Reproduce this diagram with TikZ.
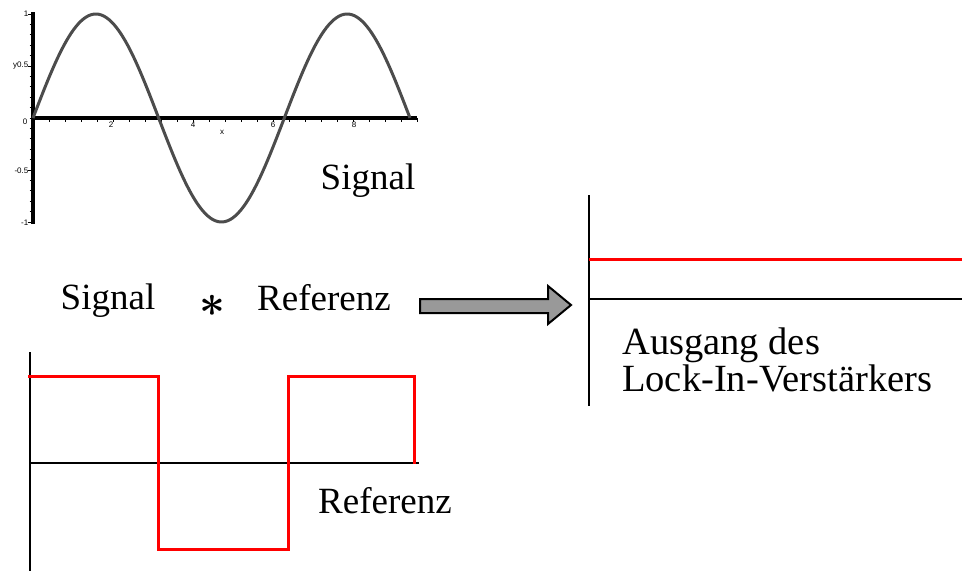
\documentclass[tikz,border=0pt]{standalone}
\usepackage{fontspec}
\usepackage{graphicx}
\setmainfont{Liberation Serif}
\newfontfamily\ticksfont{Liberation Sans}
\begin{document}
\begin{tikzpicture}[x=1pt,y=-1pt,
  axis/.style={line width=3.6pt,black},
  thinaxis/.style={line width=2.6pt,black},
  sigcurve/.style={line width=3pt,color=black!70,line join=round},
  redline/.style={line width=3pt,red},
  label/.style={font=\fontsize{37}{42}\selectfont,inner sep=0pt},
  ticklab/.style={font=\ticksfont\fontsize{8}{9}\selectfont,inner sep=0.5pt},
  mtick/.style={line width=0.9pt,black}]
\useasboundingbox (0,0) rectangle (962,571);
% ---------- sine plot ----------
\draw[axis] (33,12) -- (33,224);
\draw[axis] (31,118) -- (417,118);
\foreach \k in {-10,...,10} {\draw[mtick] (29.5,{118-10.4*\k}) -- (33,{118-10.4*\k});}
\foreach \k in {-1,-0.5,0.5,1} {\draw[mtick] (27.5,{118-104*\k}) -- (33,{118-104*\k});}
\foreach \k in {1,...,24} {\draw[mtick] ({33+16*\k},118) -- ({33+16*\k},121.5);}
\draw[sigcurve] plot[domain=0:9.4248,samples=150,smooth] ({33+40*\x},{118-104*sin(\x r)});
\node[ticklab,anchor=east] (t1) at (29,14) {1};
\node[ticklab,anchor=east] (t05) at (29,66) {y0.5};
\node[ticklab,anchor=east] (t0) at (28,122) {0};
\node[ticklab,anchor=east] (tm05) at (29,171) {-0.5};
\node[ticklab,anchor=east] (tm1) at (29,223) {-1};
\node[ticklab] (x2) at (111,125) {2};
\node[ticklab] (x4) at (193,125) {4};
\node[ticklab] (x6) at (273,125) {6};
\node[ticklab] (x8) at (354,125) {8};
\node[ticklab] (xl) at (222,132) {x};
\node[label] (siglab) at (368,181) {Signal};
% ---------- middle row ----------
\node[label] (sig) at (108,301) {Signal};
\node[inner sep=0pt] (star) at (212,306) {\scalebox{4.5}{\boldmath$\ast$}};
\node[label] (ref) at (324,298) {Referenz};
\coordinate (a1) at (420,299);
\coordinate (a2) at (548,299);
\coordinate (a3) at (548,286);
\coordinate (tip) at (571,305);
\coordinate (a5) at (548,324);
\coordinate (a6) at (548,313);
\coordinate (a7) at (420,313);
\draw[line width=2pt,fill=black!40,line join=miter] (a1) -- (a2) -- (a3) -- (tip) -- (a5) -- (a6) -- (a7) -- cycle;
% ---------- output plot ----------
\draw[thinaxis] (589,195) -- (589,406);
\draw[redline] (589,259) -- (962,259);
\draw[thinaxis] (589,299) -- (962,299);
\node[inner sep=0pt,font=\fontsize{38.5}{42}\selectfont,anchor=west,align=left] (out) at (622,360) {Ausgang des\\[-5pt]Lock-In-Verst\"arkers};
% ---------- reference plot ----------
\draw[thinaxis] (30,352) -- (30,571);
\draw[thinaxis] (30,463) -- (419,463);
\draw[redline,line join=miter] (28,376) -- (158,376) -- (158,549) -- (288,549) -- (288,376) -- (414,376) -- (414,464);
\node[label] (reflab) at (385,501) {Referenz};
\end{tikzpicture}
\end{document}
